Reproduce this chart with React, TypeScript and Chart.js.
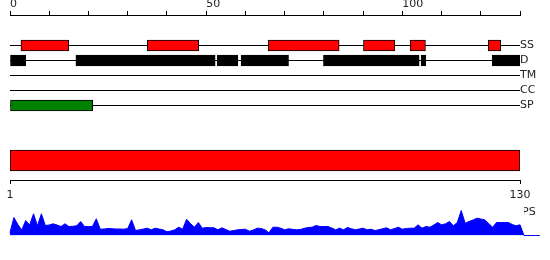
import React, { useEffect, useRef } from 'react';
import { Chart, registerables } from 'chart.js';

Chart.register(...registerables);

// ---- data ----
const trackLabels = ['SS', 'D', 'TM', 'CC', 'SP'];
const ssRanges: [number, number][] = [
  [2.8, 15], [35, 48.1], [65.8, 83.9], [90.1, 98.1], [102, 105.9], [121.9, 125.1],
];
const dRanges: [number, number][] = [
  [0, 4], [16.8, 52.3], [52.8, 58.1], [58.9, 71], [79.9, 104.3], [104.8, 106], [122.9, 130],
];
const tmRanges: [number, number][] = [];
const ccRanges: [number, number][] = [];
const spRanges: [number, number][] = [[0, 21.1]];

const topAxisMin = 0;
const topAxisMax = 130;
const topAxisMinorTicks = [0, 10, 20, 30, 40, 50, 60, 70, 80, 90, 100, 110, 120, 130];
const topAxisLabels = [0, 50, 100];

const seqStart = 1;
const seqEnd = 130;
const bottomAxisLabels = [1, 130];

// PS profile by position 0..135 (positions past 130 are zero)
const psScores = [
  3, 18, 11, 5.5, 15, 10.5, 21.7, 9.7, 21.7, 10,
  10.5, 11.7, 10.5, 9, 11.7, 9, 9.2, 9.7, 14, 9,
  9, 9, 16.7, 6.3, 6.5, 7, 6.8, 6.5, 6.5, 6.3,
  7, 15.7, 5, 5.7, 6.5, 7.3, 5.7, 7.3, 6.5, 5.7,
  3.7, 4.5, 5.7, 8.3, 6.3, 16.3, 12, 8.3, 13, 7.3,
  8, 7.8, 7.7, 5.7, 7.7, 6, 4.3, 5, 5.7, 6,
  6.3, 4.3, 5.5, 7.3, 7, 5.7, 2.7, 8.3, 8.3, 7.3,
  5.7, 6.7, 6.2, 5.7, 6, 7.2, 8, 8.3, 10, 9,
  9, 9, 7.5, 5.7, 7.3, 5.7, 8, 6.8, 5.7, 6.5,
  7.3, 5.7, 6.3, 5, 5.8, 6.8, 7.7, 5.7, 7, 8.3,
  6.3, 7, 7.3, 7.3, 10.7, 7.3, 9, 8.3, 10.5, 13,
  10.7, 11.7, 14, 9.7, 13, 25, 12.3, 14, 15.5, 17.3,
  16.5, 15.7, 12, 8.3, 13, 13, 13, 13, 11, 9.7,
  10.7, 0, 0, 0, 0, 0,
];
const psLabel = 'PS';

// ---- styles ----
const font = { family: 'DejaVu Sans', size: 11 };
const textColor = '#222';

const rows = [
  { ranges: ssRanges, color: '#ff0000' },
  { ranges: dRanges, color: '#000000' },
  { ranges: tmRanges, color: '#000000' },
  { ranges: ccRanges, color: '#000000' },
  { ranges: spRanges, color: '#008000' },
];

const noVPad = (s: any) => {
  s.paddingTop = 0;
  s.paddingBottom = 0;
};

export default function App() {
  const refA = useRef<HTMLCanvasElement>(null);
  const refB = useRef<HTMLCanvasElement>(null);
  const refC = useRef<HTMLCanvasElement>(null);

  useEffect(() => {
    const noPlugins = { legend: { display: false }, tooltip: { enabled: false } };

    const chartA = new Chart(refA.current!, {
      type: 'bar',
      data: {
        datasets: rows.map((r, i) => ({
          label: trackLabels[i],
          data: r.ranges.map((rg) => ({ x: rg, y: i })) as any,
          backgroundColor: r.color,
          borderColor: '#000',
          borderWidth: 1,
          borderSkipped: false,
          barThickness: 11,
          grouped: false,
        })),
      },
      options: {
        indexAxis: 'y',
        responsive: false,
        animation: false,
        layout: { padding: { left: 10, right: 0, top: 0, bottom: 0 } },
        plugins: noPlugins as any,
        scales: {
          x: {
            type: 'linear',
            position: 'top',
            min: topAxisMin,
            max: topAxisMax,
            afterBuildTicks: (s: any) => {
              s.ticks = topAxisMinorTicks.map((v) => ({ value: v }));
            },
            ticks: {
              autoSkip: false,
              maxRotation: 0,
              align: 'start',
              padding: 0,
              font,
              color: textColor,
              callback: (v: any) => (topAxisLabels.includes(Number(v)) ? String(v) : ''),
            },
            grid: { drawOnChartArea: false, drawTicks: true, tickLength: 4, color: '#000', lineWidth: 1 },
            border: { display: true, color: '#000', width: 1 },
            afterFit: (s: any) => {
              s.height = 15;
            },
          } as any,
          y: {
            type: 'linear',
            position: 'right',
            reverse: true,
            offset: false,
            min: -2.0333,
            max: 4.6333,
            afterBuildTicks: (s: any) => {
              s.ticks = trackLabels.map((_, i) => ({ value: i }));
            },
            ticks: {
              padding: 0,
              font,
              color: textColor,
              callback: (v: any) => trackLabels[Number(v)] ?? '',
            },
            grid: { offset: false, drawTicks: false, color: '#000', lineWidth: 1 },
            border: { display: false },
            afterFit: (s: any) => {
              s.width = 30;
              noVPad(s);
            },
          } as any,
        },
      },
    });

    const chartB = new Chart(refB.current!, {
      type: 'bar',
      data: {
        datasets: [
          {
            data: [{ x: [seqStart, seqEnd], y: 2 }] as any,
            backgroundColor: '#ff0000',
            borderColor: '#000',
            borderWidth: 1,
            borderSkipped: false,
            barThickness: 21,
          },
        ],
      },
      options: {
        indexAxis: 'y',
        responsive: false,
        animation: false,
        layout: { padding: { left: 10, right: 30, top: 0, bottom: 0 } },
        plugins: noPlugins as any,
        scales: {
          x: {
            type: 'linear',
            position: 'bottom',
            min: seqStart,
            max: seqEnd,
            afterBuildTicks: (s: any) => {
              s.ticks = bottomAxisLabels.map((v) => ({ value: v }));
            },
            ticks: { autoSkip: false, maxRotation: 0, padding: 5, font, color: textColor },
            grid: { drawOnChartArea: false, drawTicks: true, tickLength: 4, color: '#000', lineWidth: 1 },
            border: { display: true, color: '#000', width: 1 },
            afterFit: (s: any) => {
              s.height = 24;
            },
          } as any,
          y: { type: 'linear', display: false, offset: false, grid: { offset: false }, min: 0, max: 4 } as any,
        },
      },
    });

    const chartC = new Chart(refC.current!, {
      type: 'line',
      data: {
        datasets: [
          {
            data: psScores.map((v, i) => ({ x: i, y: v })),
            borderColor: '#0000ff',
            backgroundColor: '#0000ff',
            borderWidth: 1,
            pointRadius: 0,
            fill: 'origin',
            tension: 0,
            clip: false as any,
          },
        ],
      },
      options: {
        responsive: false,
        animation: false,
        layout: { padding: { left: 10, right: 0, top: 0, bottom: 4.5 } },
        plugins: noPlugins as any,
        scales: {
          x: {
            type: 'linear',
            display: false,
            bounds: 'data',
            afterDataLimits: (s: any) => {
              s.min = 0;
              s.max = 131;
            },
          } as any,
          y: {
            type: 'linear',
            position: 'right',
            min: 0,
            max: 35.5,
            afterBuildTicks: (s: any) => {
              s.ticks = [{ value: 23 }];
            },
            ticks: { padding: -2, font, color: textColor, callback: () => psLabel },
            grid: { display: false, drawTicks: false },
            border: { display: false },
            afterFit: (s: any) => {
              s.width = 26;
              noVPad(s);
            },
          } as any,
        },
      },
    });

    return () => {
      chartA.destroy();
      chartB.destroy();
      chartC.destroy();
    };
  }, []);

  const cs = (top: number): React.CSSProperties => ({ position: 'absolute', left: 0, top, display: 'block' });

  return (
    <div style={{ position: 'absolute', left: 0, top: 0, width: 550, height: 260, background: '#fff' }}>
      <canvas ref={refA} width={550} height={115} style={cs(0)} />
      <canvas ref={refB} width={550} height={63} style={cs(141)} />
      <canvas ref={refC} width={550} height={40} style={cs(200)} />
    </div>
  );
}
